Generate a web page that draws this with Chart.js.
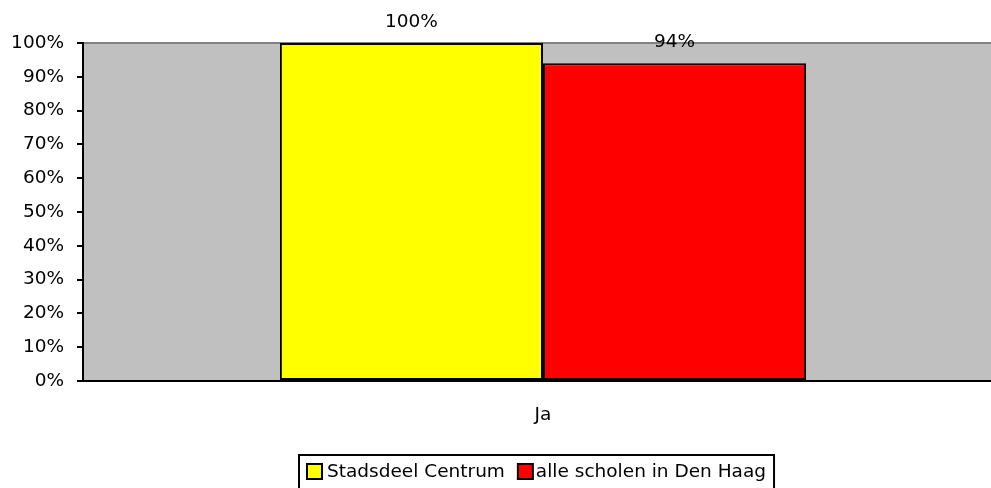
<!DOCTYPE html>
<html><head><meta charset="utf-8">
<script src="https://cdn.jsdelivr.net/npm/chart.js@4/dist/chart.umd.min.js"></script>
<style>
html,body{margin:0;padding:0;background:#fff;overflow:hidden;}
#wrap{width:1003px;height:488px;position:relative;}
</style></head>
<body><div id="wrap"><canvas id="c"></canvas></div>
<script>
const categories = ['Ja'];
const seriesNames = ['Stadsdeel Centrum', 'alle scholen in Den Haag'];
const stadsdeelCentrum = [100];
const alleScholen = [94];
const yTicks = [0,10,20,30,40,50,60,70,80,90,100];
const FONT = 'DejaVu Sans';
const FS = 18.5;

const bgPlugin = {
  id:'bg',
  beforeDraw(chart){
    const {ctx, chartArea:a} = chart;
    ctx.save(); ctx.fillStyle='#C0C0C0';
    ctx.fillRect(a.left,a.top,a.right-a.left,a.bottom-a.top); ctx.restore();
  }
};
const labelPlugin = {
  id:'lbl',
  afterDatasetsDraw(chart){
    const ctx=chart.ctx; ctx.save();
    ctx.font=FS+'px "'+FONT+'"'; ctx.fillStyle='#000'; ctx.textAlign='center'; ctx.textBaseline='middle';
    chart.data.datasets.forEach((ds,i)=>{
      chart.getDatasetMeta(i).data.forEach((bar,j)=>{
        ctx.fillText(ds.data[j]+'%', bar.x, bar.y-21);
      });
    });
    ctx.restore();
  }
};
const legendPlugin = {
  id:'customLegend',
  afterDraw(chart){
    const ctx=chart.ctx; ctx.save();
    ctx.font=FS+'px "'+FONT+'"'; ctx.textBaseline='middle'; ctx.textAlign='left';
    const left=299, top=455, cy=472;
    let x=left+8;
    chart.data.datasets.forEach((ds,i)=>{
      ctx.fillStyle=ds.backgroundColor; ctx.fillRect(x,cy-8,15,15);
      ctx.strokeStyle='#000'; ctx.lineWidth=2; ctx.strokeRect(x,cy-8,15,15);
      ctx.fillStyle='#000';
      const tx = x + (i===0?20:18);
      ctx.fillText(ds.label, tx, cy);
      x = tx + ctx.measureText(ds.label).width + 13;
    });
    const right = x - 13 + 8;
    ctx.strokeStyle='#000'; ctx.lineWidth=2;
    ctx.strokeRect(left, top, right-left, 40);
    ctx.restore();
  }
};

new Chart(document.getElementById('c'),{
  type:'bar',
  data:{labels:categories,datasets:[
    {label:seriesNames[0],data:stadsdeelCentrum,backgroundColor:'#FFFF00',borderColor:'#000',borderWidth:2,borderSkipped:false},
    {label:seriesNames[1],data:alleScholen,backgroundColor:'#FF0000',borderColor:'#000',borderWidth:2,borderSkipped:false}
  ]},
  plugins:[bgPlugin,labelPlugin,legendPlugin],
  options:{
    responsive:true,maintainAspectRatio:false,animation:false,
    layout:{padding:{top:43,left:0,right:0,bottom:0}},
    datasets:{bar:{categoryPercentage:0.572,barPercentage:1}},
    plugins:{tooltip:{enabled:false},legend:{display:false}},
    scales:{
      x:{grid:{display:false,drawTicks:false},border:{display:true,color:'#000',width:2},
         ticks:{font:{family:FONT,size:FS},color:'#000',padding:23},
         afterFit(s){s.height=107;}},
      y:{min:0,max:100,afterBuildTicks(s){s.ticks=yTicks.map(v=>({value:v}));},
         grid:{color:c=>c.tick&&c.tick.value===100?'#808080':'rgba(0,0,0,0)',lineWidth:2,tickColor:'#000',tickLength:6,drawTicks:true},
         border:{display:true,color:'#000',width:2},
         ticks:{font:{family:FONT,size:FS},color:'#000',padding:13,callback:v=>v+'%'},
         afterFit(s){s.width=83;}}
    }
  }
});
</script></body></html>
